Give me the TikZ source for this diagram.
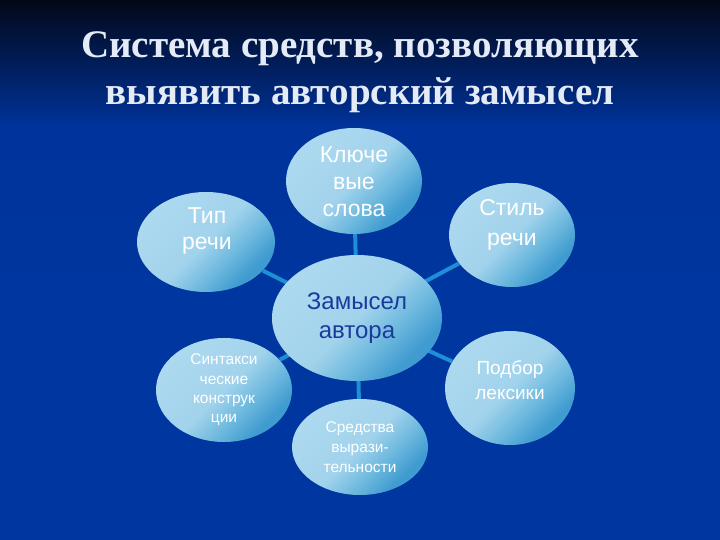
\documentclass[tikz,border=0pt]{standalone}
\usepackage{fontspec}
\setmainfont{Liberation Sans}
\newfontfamily\titlefont{Liberation Serif}
\usetikzlibrary{shapes.geometric}
\definecolor{bgtop}{HTML}{020818}
\definecolor{bgmid}{HTML}{00339C}
\definecolor{bgbot}{HTML}{00369F}
\definecolor{elllight}{HTML}{B6DFF2}
\definecolor{ellmid}{HTML}{A2D3EC}
\definecolor{ellmd}{HTML}{6CB8DE}
\definecolor{elldark}{HTML}{409CD0}
\definecolor{linkc}{HTML}{1E8ED6}
\definecolor{titlec}{HTML}{E4EAF6}
\definecolor{centc}{HTML}{1C3A9C}
\pgfdeclareverticalshading{ellsh}{100bp}{color(0bp)=(elldark); color(28bp)=(elldark); color(38bp)=(ellmd); color(50bp)=(ellmid); color(100bp)=(elllight)}
\tikzset{
  ell/.style={ellipse, inner sep=0pt, shade, shading=ellsh, shading angle=45},
  link/.style={linkc, line width=4pt},
  lbl/.style={text=white, align=center, inner sep=0pt},
}
\begin{document}
\begin{tikzpicture}[x=1pt,y=-1pt]
\useasboundingbox (0,0) rectangle (720,540);
\shade[top color=bgtop, bottom color=bgmid] (0,0) rectangle (720,128);
\fill[bgbot] (0,127) rectangle (720,540);
\shade[top color=bgmid, bottom color=bgbot] (0,127) rectangle (720,300);
% title
\node[text=titlec, font=\titlefont\bfseries\fontsize{39}{47}\selectfont, align=center, inner sep=0pt] (title) at (360,72) {Система средств, позволяющих\\выявить авторский замысел};
% outer ellipses
\node[ell, minimum width=138pt, minimum height=100pt] (tip) at (206,242) {};
\node[ell, minimum width=136pt, minimum height=106pt] (key) at (354,181) {};
\node[ell, minimum width=126pt, minimum height=104pt] (stil) at (512,235) {};
\node[ell, minimum width=136pt, minimum height=104pt] (sint) at (224,390) {};
\node[ell, minimum width=136pt, minimum height=96pt] (sred) at (360,447) {};
\node[ell, minimum width=130pt, minimum height=114pt] (podb) at (510,388) {};
% connectors
\coordinate (c0) at (357,318);
\draw[link] (tip) -- (c0);
\draw[link] (key) -- (c0);
\draw[link] (stil) -- (c0);
\draw[link] (sint) -- (c0);
\draw[link] (sred) -- (c0);
\draw[link] (podb) -- (c0);
% centre
\node[ell, minimum width=170pt, minimum height=126pt] (cent) at (c0) {};
% labels
\node[lbl, font=\fontsize{23}{26}\selectfont] (tipt) at (207,231) {Тип\\речи};
\node[lbl, font=\fontsize{23}{27}\selectfont] (keyt) at (354,182) {Ключе\\вые\\слова};
\node[lbl, font=\fontsize{23}{30}\selectfont] (stilt) at (512,225) {Стиль\\речи};
\node[lbl, text=centc, font=\fontsize{24}{29}\selectfont] (centt) at (357,318) {Замысел\\автора};
\node[lbl, font=\fontsize{19}{25}\selectfont] (podbt) at (510,380) {Подбор\\лексики};
\node[lbl, font=\fontsize{15.5}{19.3}\selectfont] (sintt) at (224,390) {Синтакси\\ческие\\конструк\\ции};
\node[lbl, font=\fontsize{15.5}{20}\selectfont] (sredt) at (360,447) {Средства\\вырази-\\тельности};
\end{tikzpicture}
\end{document}
